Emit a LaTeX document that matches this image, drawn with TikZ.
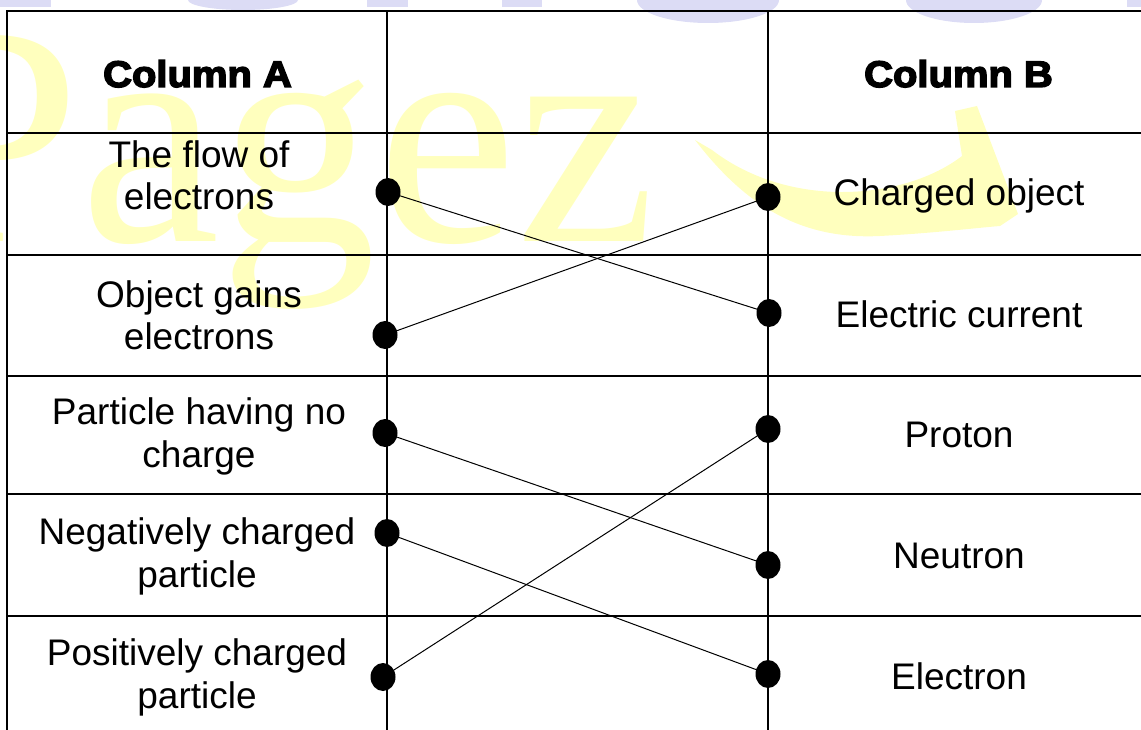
\documentclass[tikz,border=0pt]{standalone}
\usepackage{fontspec}
\setmainfont{Liberation Sans}
\newfontfamily\headfont{Liberation Sans Bold}[FakeBold=4,FakeStretch=1.08]
\newfontfamily\markfont{Liberation Serif}
\usetikzlibrary{shapes.geometric}
\definecolor{markyellow}{RGB}{255,255,190}
\definecolor{marklilac}{RGB}{220,220,245}

\begin{document}
\begin{tikzpicture}[x=0.75pt,y=-0.75pt,
  grid/.style={line width=1.5pt},
  link/.style={line width=0.75pt},
  dot/.style={ellipse,fill=black,inner sep=0pt,minimum width=18.75pt,minimum height=21pt},
  cell/.style={align=center,inner sep=0pt,anchor=base,
    font=\fontsize{27.75pt}{31.8pt}\selectfont},
  head/.style={inner sep=0pt,anchor=base,
    font=\headfont\fontsize{27.75pt}{31.8pt}\selectfont}]
\useasboundingbox (0,0) rectangle (1141,730);
\clip (0,0) rectangle (1141,730);

% background mark
\node[anchor=base west,inner sep=0pt,text=markyellow,
  font=\markfont\fontsize{236pt}{236pt}\selectfont] (mark) at (-95,242) {Pagez};
\fill[markyellow] (695,140) .. controls (745,205) and (800,240) .. (880,236)
  .. controls (935,233) and (975,228) .. (1000,226) -- (1018,214) -- (977,106)
  -- (955,111) -- (962,156) .. controls (905,200) and (790,210) .. (712,150) -- cycle;
\fill[marklilac] (-5,0) rectangle (51,7);
\fill[marklilac] (243,0) ellipse [x radius=41.25pt,y radius=7.5pt];
\fill[marklilac] (367,0) rectangle (408,7);
\fill[marklilac] (502,0) rectangle (542,7);
\fill[marklilac] (708,0) ellipse [x radius=53.25pt,y radius=17.25pt];
\fill[marklilac] (974,0) ellipse [x radius=51pt,y radius=17.25pt];
\fill[marklilac] (1127,0) rectangle (1150,7);

% table rules
\draw[grid] (7,740) -- (7,11) -- (1150,11);
\foreach \yy in {133,255,376,494,616}
  \draw[grid] (7,\yy) -- (1150,\yy);
\draw[grid] (387,11) -- (387,740);
\draw[grid] (768,11) -- (768,740);

% headings
\node[head] (ha) at (197.5,87) {Column A};
\node[head] (hb) at (958.5,87) {Column B};

% column A (anchored on the baseline of the last line)
\node[cell] (a1) at (199,210) {The flow of\\electrons};
\node[cell] (a2) at (199,350) {Object gains\\electrons};
\node[cell] (a3) at (199,467) {Particle having no\\charge};
\node[cell] (a4) at (197,587) {Negatively charged\\particle};
\node[cell] (a5) at (197,708) {Positively charged\\particle};

% column B
\node[cell] (b1) at (959,206) {Charged object};
\node[cell] (b2) at (959,328) {Electric current};
\node[cell] (b3) at (959,447) {Proton};
\node[cell] (b4) at (959,568) {Neutron};
\node[cell] (b5) at (959,689) {Electron};

% matching dots
\node[dot] (p1) at (388,192) {};
\node[dot] (p2) at (385,335) {};
\node[dot] (p3) at (385,433) {};
\node[dot] (p4) at (387,533) {};
\node[dot] (p5) at (383,677) {};
\node[dot] (q1) at (768,197) {};
\node[dot] (q2) at (769,313) {};
\node[dot] (q3) at (768,429) {};
\node[dot] (q4) at (768,565) {};
\node[dot] (q5) at (768,674) {};

% answers
\draw[link] (p1.center) -- (q2.center);
\draw[link] (p2.center) -- (q1.center);
\draw[link] (p3.center) -- (q4.center);
\draw[link] (p4.center) -- (q5.center);
\draw[link] (p5.center) -- (q3.center);
\end{tikzpicture}
\end{document}
